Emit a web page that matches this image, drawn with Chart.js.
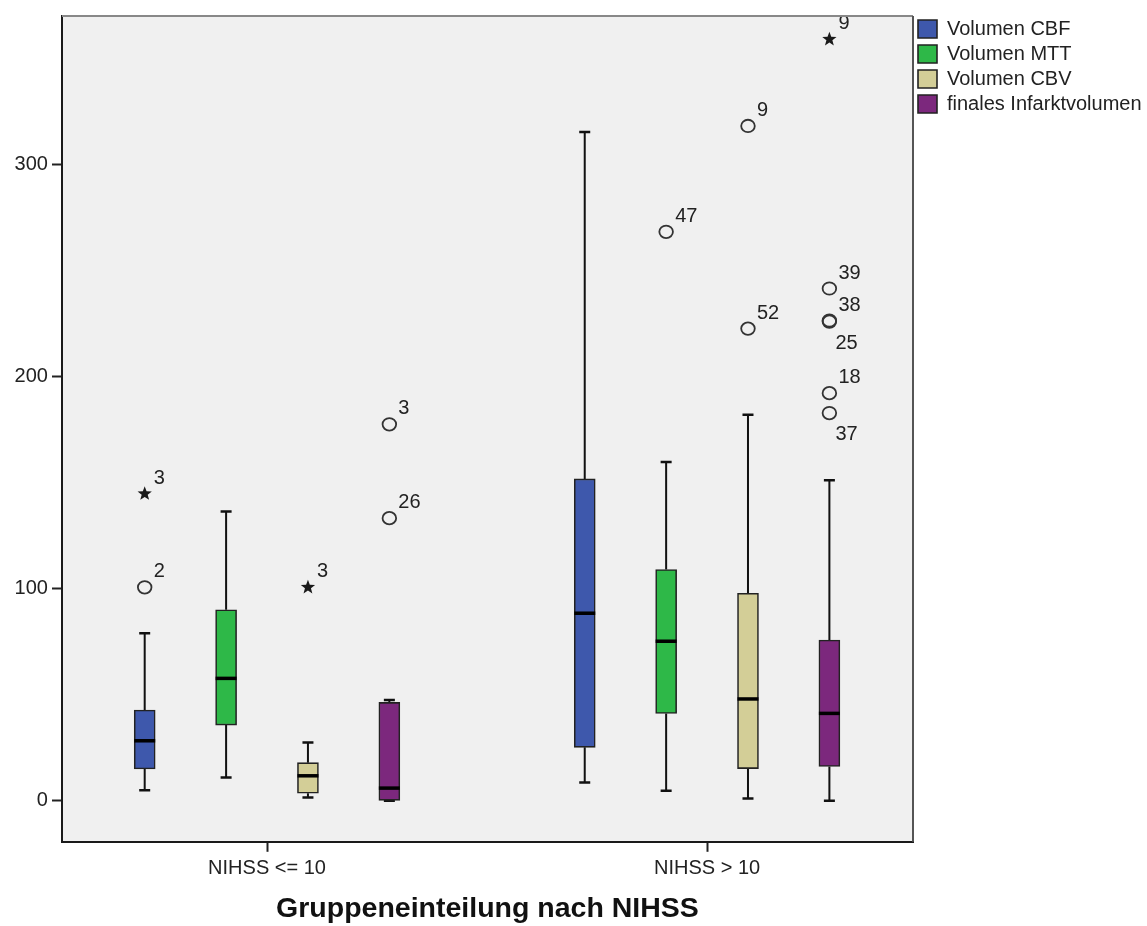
<!DOCTYPE html>
<html lang="de">
<head>
<meta charset="utf-8">
<title>Volumen nach NIHSS</title>
<script src="https://cdn.jsdelivr.net/npm/chart.js@4.4.1/dist/chart.umd.min.js"></script>
<style>
  html, body { margin: 0; padding: 0; background: #fff; }
  canvas { display: block; }
</style>
</head>
<body>
<canvas id="boxplot" width="1147" height="926"></canvas>
<script>
// Gruppen und Variablen
const groups = ['NIHSS <= 10', 'NIHSS > 10'];
const seriesNames = ['Volumen CBF', 'Volumen MTT', 'Volumen CBV', 'finales Infarktvolumen'];
const seriesColors = ['#3e58ac', '#2eb848', '#d3ce97', '#7c287d'];

// Kennwerte je Variable, [NIHSS <= 10, NIHSS > 10]
const lowWhisker  = [[5, 8.6],    [11, 4.7],    [1.6, 1.1],   [0, 0]];
const q1          = [[15, 25.2],  [35.7, 41.2], [3.6, 15.2],  [0, 16.2]];
const median      = [[28.3, 88.4],[57.7, 75.2], [11.8, 48],   [6, 41.2]];
const q3          = [[42.8, 151.7],[90, 109],   [18, 97.8],   [46.4, 75.8]];
const highWhisker = [[79, 315.2], [136.3, 159.6],[27.5, 181.9],[47.5, 151]];

// Ausreisser (o) und Extremwerte (*), mit Fallnummer
const outliers = [
  { series: 0, group: 0, value: 100.6, label: '2',  kind: 'o' },
  { series: 0, group: 0, value: 144.7, label: '3',  kind: '*' },
  { series: 2, group: 0, value: 100.6, label: '3',  kind: '*' },
  { series: 3, group: 0, value: 133.2, label: '26', kind: 'o' },
  { series: 3, group: 0, value: 177.4, label: '3',  kind: 'o' },
  { series: 1, group: 1, value: 268.1, label: '47', kind: 'o' },
  { series: 2, group: 1, value: 222.5, label: '52', kind: 'o' },
  { series: 2, group: 1, value: 318,   label: '9',  kind: 'o' },
  { series: 3, group: 1, value: 182.7, label: '37', kind: 'o' },
  { series: 3, group: 1, value: 192.1, label: '18', kind: 'o' },
  { series: 3, group: 1, value: 225.8, label: '25', kind: 'o' },
  { series: 3, group: 1, value: 226.3, label: '38', kind: 'o' },
  { series: 3, group: 1, value: 241.4, label: '39', kind: 'o' },
  { series: 3, group: 1, value: 358.8, label: '9',  kind: '*' }
];

const yTicks = [0, 100, 200, 300];

// Versatz der Boxen innerhalb einer Gruppe (in Gruppeneinheiten)
const boxOffset = [-0.278, -0.093, 0.093, 0.278];
// Beschriftungen, die unter dem Punkt stehen
const labelBelow = ['25', '37'];

const datasets = seriesNames.map((name, s) => ({
  label: name,
  data: groups.map((g, gi) => ({ x: gi + boxOffset[s], y: [q1[s][gi], q3[s][gi]] })),
  backgroundColor: seriesColors[s],
  borderColor: '#222',
  borderWidth: 1.6,
  borderSkipped: false,
  barThickness: 21,
  grouped: false
}));

function drawStar(ctx, x, y, r) {
  ctx.beginPath();
  for (let i = 0; i < 10; i++) {
    const rad = i % 2 === 0 ? r : r * 0.42;
    const a = -Math.PI / 2 + i * Math.PI / 5;
    ctx.lineTo(x + rad * Math.cos(a), y + rad * Math.sin(a));
  }
  ctx.closePath();
  ctx.fill();
}

const boxplotPlugin = {
  id: 'boxplot',
  beforeDraw(chart) {
    const { ctx, chartArea: a } = chart;
    ctx.save();
    ctx.fillStyle = '#f0f0f0';
    ctx.fillRect(a.left, a.top, a.right - a.left, a.bottom - a.top);
    ctx.restore();
  },
  beforeDatasetsDraw(chart) {
    // Whisker mit Querstrichen
    const { ctx, scales: { y } } = chart;
    ctx.save();
    ctx.strokeStyle = '#111';
    chart.data.datasets.forEach((ds, s) => {
      chart.getDatasetMeta(s).data.forEach((bar, gi) => {
        const x = bar.x;
        const yLow = y.getPixelForValue(lowWhisker[s][gi]);
        const yHigh = y.getPixelForValue(highWhisker[s][gi]);
        ctx.lineWidth = 2;
        ctx.beginPath();
        ctx.moveTo(x, yLow);
        ctx.lineTo(x, y.getPixelForValue(q1[s][gi]));
        ctx.moveTo(x, y.getPixelForValue(q3[s][gi]));
        ctx.lineTo(x, yHigh);
        ctx.stroke();
        ctx.lineWidth = 2.5;
        ctx.beginPath();
        ctx.moveTo(x - 5.5, yLow);
        ctx.lineTo(x + 5.5, yLow);
        ctx.moveTo(x - 5.5, yHigh);
        ctx.lineTo(x + 5.5, yHigh);
        ctx.stroke();
      });
    });
    ctx.restore();
  },
  afterDatasetsDraw(chart) {
    const { ctx, scales: { y } } = chart;
    ctx.save();
    // Median
    ctx.strokeStyle = '#000';
    ctx.lineWidth = 3.5;
    chart.data.datasets.forEach((ds, s) => {
      chart.getDatasetMeta(s).data.forEach((bar, gi) => {
        const ym = y.getPixelForValue(median[s][gi]);
        ctx.beginPath();
        ctx.moveTo(bar.x - bar.width / 2, ym);
        ctx.lineTo(bar.x + bar.width / 2, ym);
        ctx.stroke();
      });
    });
    // Ausreisser und Fallnummern
    ctx.font = '20px "Liberation Sans", Arial, sans-serif';
    ctx.textAlign = 'left';
    ctx.textBaseline = 'alphabetic';
    outliers.forEach(o => {
      const bar = chart.getDatasetMeta(o.series).data[o.group];
      const px = bar.x;
      const py = y.getPixelForValue(o.value);
      if (o.kind === '*') {
        ctx.fillStyle = '#1a1a1a';
        drawStar(ctx, px, py, 7.5);
      } else {
        ctx.strokeStyle = '#333';
        ctx.lineWidth = 1.8;
        ctx.beginPath();
        ctx.ellipse(px, py, 6.8, 6.2, 0, 0, Math.PI * 2);
        ctx.stroke();
      }
      ctx.fillStyle = '#222';
      if (labelBelow.includes(o.label) && o.series === 3 && o.group === 1) {
        ctx.fillText(o.label, px + 6, py + 27);
      } else {
        ctx.fillText(o.label, px + 9, py - 10);
      }
    });
    ctx.restore();
  },
  afterDraw(chart) {
    // obere und rechte Rahmenlinie
    const { ctx, chartArea: a } = chart;
    ctx.save();
    ctx.lineWidth = 2;
    ctx.strokeStyle = '#888';
    ctx.beginPath();
    ctx.moveTo(a.left, a.top);
    ctx.lineTo(a.right, a.top);
    ctx.stroke();
    ctx.strokeStyle = '#555';
    ctx.beginPath();
    ctx.moveTo(a.right, a.top);
    ctx.lineTo(a.right, a.bottom);
    ctx.stroke();
    ctx.restore();
  }
};

const tickFont = { family: '"Liberation Sans", Arial, sans-serif', size: 20 };

new Chart(document.getElementById('boxplot').getContext('2d'), {
  type: 'bar',
  data: { datasets: datasets },
  plugins: [boxplotPlugin],
  options: {
    responsive: false,
    animation: false,
    layout: { padding: { top: 14, left: 10.6, right: 0, bottom: 0 } },
    plugins: {
      tooltip: { enabled: false },
      legend: {
        position: 'right',
        align: 'start',
        maxWidth: 234,
        labels: {
          boxWidth: 19,
          boxHeight: 18,
          padding: 5,
          color: '#222',
          font: tickFont
        }
      }
    },
    scales: {
      x: {
        type: 'linear',
        offset: false,
        min: -0.466,
        max: 1.468,
        afterBuildTicks: axis => { axis.ticks = groups.map((g, i) => ({ value: i })); },
        ticks: {
          color: '#222',
          font: tickFont,
          padding: 5,
          maxRotation: 0,
          callback: v => groups[v]
        },
        grid: { offset: false, drawOnChartArea: false, drawTicks: true, tickLength: 10, tickColor: '#222', tickWidth: 2 },
        border: { display: true, color: '#1a1a1a', width: 2 },
        title: {
          display: true,
          text: 'Gruppeneinteilung nach NIHSS',
          color: '#111',
          font: { family: '"Liberation Sans", Arial, sans-serif', size: 28.5, weight: 'bold' },
          padding: { top: 6, bottom: 0 }
        }
      },
      y: {
        type: 'linear',
        min: -19.3,
        max: 369.8,
        afterBuildTicks: axis => { axis.ticks = yTicks.map(v => ({ value: v })); },
        ticks: { color: '#222', font: tickFont, padding: 4 },
        grid: { drawOnChartArea: false, drawTicks: true, tickLength: 10, tickColor: '#222', tickWidth: 2 },
        border: { display: true, color: '#1a1a1a', width: 2 }
      }
    }
  }
});
</script>
</body>
</html>
